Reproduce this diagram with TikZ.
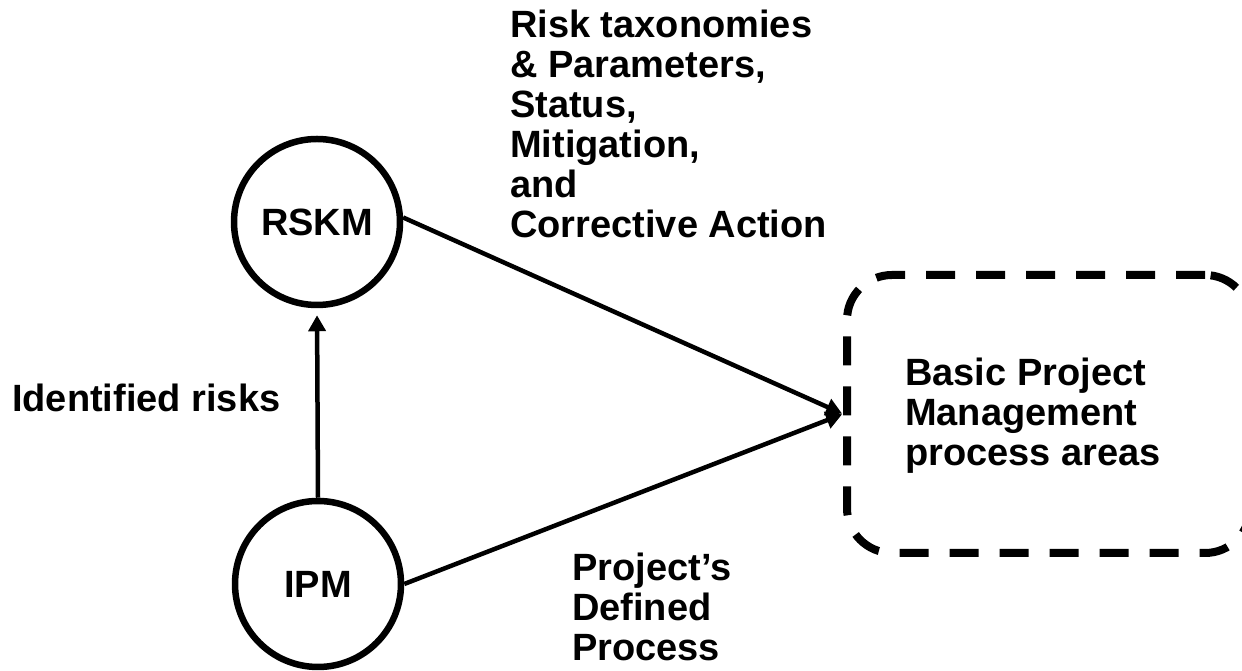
\documentclass[tikz,border=0pt]{standalone}
\usepackage{fontspec}
\setmainfont{Liberation Sans}
\usetikzlibrary{arrows.meta}
\begin{document}
\begin{tikzpicture}[x=1pt,y=1pt,
  lbl/.style={font=\bfseries\fontsize{38}{40}\selectfont, inner sep=0pt, align=left},
  pa/.style={circle, draw, line width=6.5pt, minimum size=166pt, inner sep=0pt, font=\bfseries\fontsize{38}{40}\selectfont},
  conn/.style={line width=4.5pt, -{Triangle[length=16pt,width=17pt]}},
  dbox/.style={draw, line width=8pt, rounded corners=45pt, dash pattern=on 29pt off 21pt, minimum width=403pt, minimum height=278pt, inner sep=0pt}
]
\useasboundingbox (0,0) rectangle (1242,671);
\node[pa] (rskm) at (317,449) {RSKM};
\node[pa] (ipm) at (318,87) {IPM};
\node[dbox] (box) at (1048.5,257) {};
\node[lbl, anchor=north west] (bpm) at (905,313) {Basic Project\\Management\\process areas};
\node[lbl, anchor=north west] (risk) at (510,661) {Risk taxonomies\\\& Parameters,\\Status,\\Mitigation,\\and\\Corrective Action};
\node[lbl, anchor=base west] (ident) at (12,259) {Identified risks};
\node[lbl, anchor=north west] (pdp) at (572,118) {Project’s\\Defined\\Process};
\draw[conn, shorten >=7pt] (ipm.north) -- (rskm.south);
\draw[conn, shorten >=1pt] (rskm.3) -- (box.west);
\draw[conn, shorten >=1pt] (ipm.east) -- (box.west);
\end{tikzpicture}
\end{document}
